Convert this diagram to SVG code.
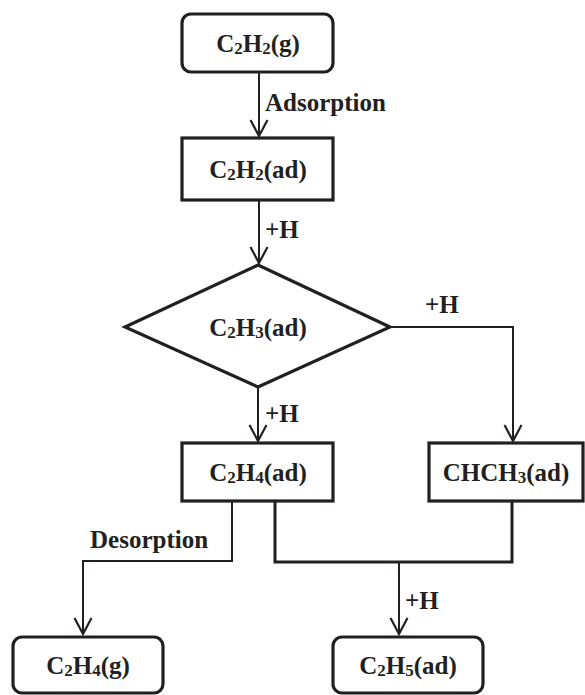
<svg xmlns="http://www.w3.org/2000/svg" width="585" height="695" viewBox="0 0 585 695">
<style>
.box{fill:#fff;stroke:#231f20;stroke-width:3.2}
.ln{fill:none;stroke:#231f20;stroke-width:2}
.thk{fill:none;stroke:#231f20;stroke-width:3}
.ah{fill:none;stroke:#231f20;stroke-width:2.2}
text{font-family:"Liberation Serif","Times New Roman",serif;font-weight:bold;font-size:25px;fill:#231f20}
.c{text-anchor:middle}
.s{font-size:17px}
</style>
<defs>
<marker id="arr" viewBox="-20 -10 22 20" markerWidth="22" markerHeight="20" refX="0" refY="0" orient="auto" markerUnits="userSpaceOnUse">
<path d="M-16,-8.5 L0,0 L-16,8.5" class="ah"/>
</marker>
</defs>
<rect width="585" height="695" fill="#fff"/>
<g id="connectors">
<line class="ln" x1="259" y1="72" x2="259" y2="136" marker-end="url(#arr)"/>
<line class="ln" x1="259" y1="200" x2="259" y2="263" marker-end="url(#arr)"/>
<polyline class="ln" points="390,327 513,327 513,441" marker-end="url(#arr)"/>
<line class="ln" x1="258" y1="387" x2="258" y2="441" marker-end="url(#arr)"/>
<polyline class="ln" points="232,501 232,561 83,561 83,634" marker-end="url(#arr)"/>
<polyline class="thk" points="275,501 275,562 512,562 512,501"/>
<line class="ln" x1="399" y1="562" x2="399" y2="634" marker-end="url(#arr)"/>
<text x="265" y="111">Adsorption</text>
<text x="265" y="238">+H</text>
<text x="425" y="313">+H</text>
<text x="265" y="422">+H</text>
<text x="90" y="548">Desorption</text>
<text x="405" y="609">+H</text>
</g>
<g id="n_c2h2g">
<rect class="box" x="182" y="14" width="151" height="58" rx="9"/>
<text class="c" x="258" y="52">C<tspan class="s" dy="2">2</tspan><tspan dy="-2">H</tspan><tspan class="s" dy="2">2</tspan><tspan dy="-2">(g)</tspan></text>
</g>
<g id="n_c2h2ad">
<rect class="box" x="182" y="138" width="151" height="62"/>
<text class="c" x="258" y="178">C<tspan class="s" dy="2">2</tspan><tspan dy="-2">H</tspan><tspan class="s" dy="2">2</tspan><tspan dy="-2">(ad)</tspan></text>
</g>
<g id="n_c2h3ad">
<polygon class="box" points="258,265 390,327 258,387 125,327"/>
<text class="c" x="258" y="336">C<tspan class="s" dy="2">2</tspan><tspan dy="-2">H</tspan><tspan class="s" dy="2">3</tspan><tspan dy="-2">(ad)</tspan></text>
</g>
<g id="n_c2h4ad">
<rect class="box" x="182" y="443" width="151" height="58"/>
<text class="c" x="258" y="481">C<tspan class="s" dy="2">2</tspan><tspan dy="-2">H</tspan><tspan class="s" dy="2">4</tspan><tspan dy="-2">(ad)</tspan></text>
</g>
<g id="n_chch3ad">
<rect class="box" x="429" y="443" width="154" height="58"/>
<text class="c" x="506" y="481">CHCH<tspan class="s" dy="2">3</tspan><tspan dy="-2">(ad)</tspan></text>
</g>
<g id="n_c2h4g">
<rect class="box" x="13" y="637" width="150" height="56" rx="9"/>
<text class="c" x="88" y="674">C<tspan class="s" dy="2">2</tspan><tspan dy="-2">H</tspan><tspan class="s" dy="2">4</tspan><tspan dy="-2">(g)</tspan></text>
</g>
<g id="n_c2h5ad">
<rect class="box" x="333" y="637" width="150" height="56" rx="9"/>
<text class="c" x="408" y="674">C<tspan class="s" dy="2">2</tspan><tspan dy="-2">H</tspan><tspan class="s" dy="2">5</tspan><tspan dy="-2">(ad)</tspan></text>
</g>
</svg>
